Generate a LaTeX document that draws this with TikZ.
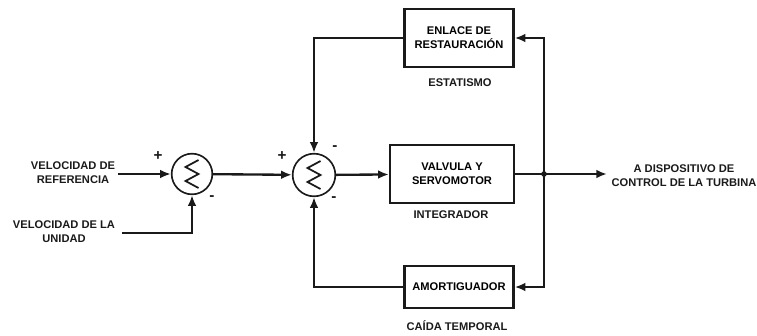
\documentclass[tikz,border=0pt]{standalone}
\usepackage{fontspec}
\setmainfont{Liberation Sans}
\usepackage{tikz}
\usetikzlibrary{calc,arrows.meta,positioning}
\definecolor{inkc}{HTML}{1A1A1A}
\tikzset{
  ar/.style={-{Latex[length=3.2mm,width=2.6mm]},line width=2pt,inkc},
  ln/.style={line width=2pt,inkc},
  box/.style={draw=inkc,line width=2pt,align=center,inner sep=2pt,font=\fontsize{9.5}{12}\selectfont\bfseries},
  sumc/.style={draw=inkc,line width=1.4pt,circle,minimum size=1.22cm,inner sep=0pt},
  lbl/.style={align=center,font=\fontsize{9.5}{12}\selectfont\bfseries,inkc},
  sg/.style={font=\fontsize{13}{13}\selectfont\bfseries,inkc}
}
\begin{document}
\begin{tikzpicture}[x=0.03cm,y=-0.03cm]
\useasboundingbox (0,0) rectangle (757,335);
% summing points
\node[sumc] (s1) at (192,174) {};
\node[sumc,minimum size=1.28cm] (s2) at (314,175) {};
\foreach \s in {s1,s2}
  \draw[ln,line width=1.5pt,line join=miter] ($(\s)+(6.5,-14)$) -- ++(-13,7) -- ++(13,7) -- ++(-13,7) -- ++(13,7);
% blocks
\node[box,minimum width=3.72cm,minimum height=1.74cm] (val) at (452,174) {VALVULA Y\\SERVOMOTOR};
\node[box,minimum width=3.27cm,minimum height=1.74cm] (enl) at (459,38) {ENLACE DE\\RESTAURACIÓN};
\node[box,minimum width=3.27cm,minimum height=1.26cm] (amo) at (459,287) {AMORTIGUADOR};
\fill[inkc] (544,174) circle (2.4pt) coordinate (jn);
\coordinate (out) at (607,174);
\coordinate (in1) at (118,174);
\coordinate (in2) at (122,233);
% labels
\node[lbl] (vr) at (73,173) {VELOCIDAD DE\\REFERENCIA};
\node[lbl] (vu) at (64,232) {VELOCIDAD DE LA\\UNIDAD};
\node[lbl] (est) at (460,83) {ESTATISMO};
\node[lbl] (int) at (451,215) {INTEGRADOR};
\node[lbl] (cai) at (457,326) {CAÍDA TEMPORAL};
\node[lbl] (dsp) at (684,176) {A DISPOSITIVO DE\\CONTROL DE LA TURBINA};
\node[sg] (p1) at (158,156) {+};
\node[sg] (m1) at (212,198) {-};
\node[sg] (p2) at (282,156) {+};
\node[sg] (m2) at (335,148) {-};
\node[sg] (m3) at (334,199) {-};
% connectors
\draw[ar] (in1) -- (s1);
\draw[ar] (in2) -| (s1);
\draw[ar] (s1) -- (s2);
\draw[ar] (s2) -- (val);
\draw[ln] (val) -- (jn);
\draw[ar] (jn) -- (out);
\draw[ar] (jn) |- (enl);
\draw[ar] (jn) |- (amo);
\draw[ar] (enl) -| (s2);
\draw[ar] (amo) -| (s2);
\end{tikzpicture}
\end{document}
